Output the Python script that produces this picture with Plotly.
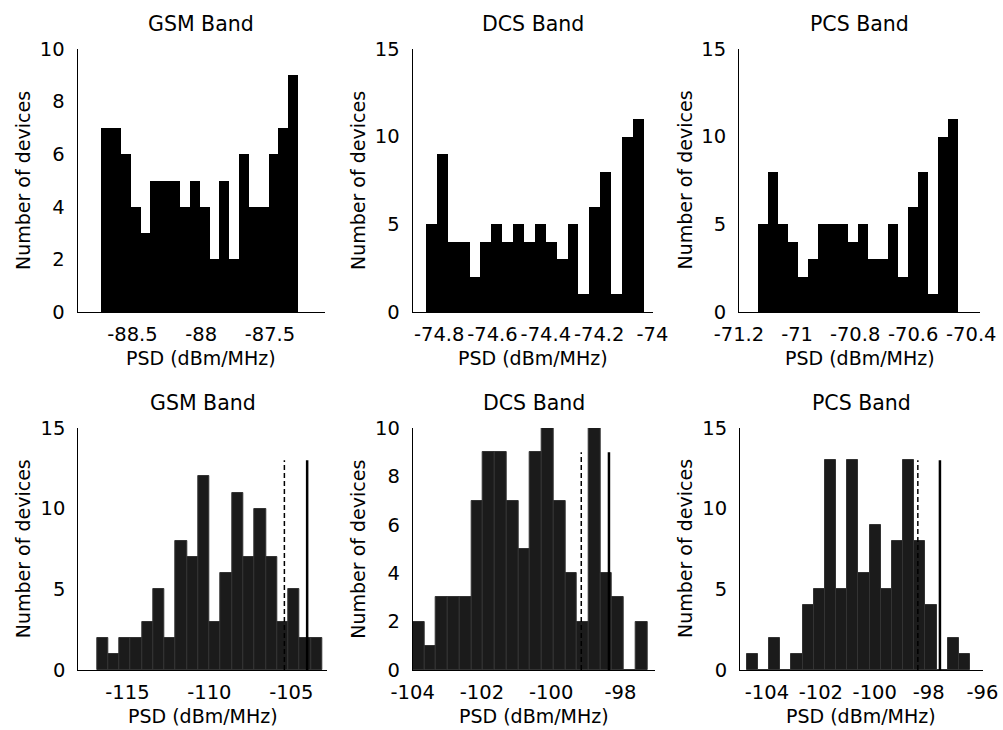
import numpy as np
import plotly.graph_objects as go

W, H = 1003, 730
FONT = "DejaVu Sans, Verdana, sans-serif"

# ---- histogram counts (20 bins per panel) ----
gsm_top_counts = [7, 7, 6, 4, 3, 5, 5, 5, 4, 5, 4, 2, 5, 2, 6, 4, 4, 6, 7, 9]
dcs_top_counts = [5, 9, 4, 4, 2, 4, 5, 4, 5, 4, 5, 4, 3, 5, 1, 6, 8, 1, 10, 11]
pcs_top_counts = [5, 8, 5, 4, 2, 3, 5, 5, 5, 4, 5, 3, 3, 5, 2, 6, 8, 1, 10, 11]
gsm_bot_counts = [2, 1, 2, 2, 3, 5, 2, 8, 7, 12, 3, 6, 11, 7, 10, 7, 3, 5, 2, 2]
dcs_bot_counts = [2, 1, 3, 3, 3, 7, 9, 9, 7, 5, 9, 10, 7, 4, 2, 10, 4, 3, 0, 2]
pcs_bot_counts = [1, 0, 2, 0, 1, 4, 5, 13, 5, 13, 6, 9, 5, 8, 13, 8, 4, 0, 2, 1]

# ---- histogram span (first bin lower edge, last bin upper edge), dBm/MHz ----
gsm_top_span = [-88.731, -87.299]
dcs_top_span = [-74.851, -74.035]
pcs_top_span = [-71.133, -70.446]
gsm_bot_span = [-116.87, -103.11]
dcs_bot_span = [-104.00, -97.22]
pcs_bot_span = [-104.75, -96.46]

# ---- reference markers in the lower panels: [dashed, solid] positions and height ----
gsm_bot_markers = [-105.42, -104.03]
dcs_bot_markers = [-99.13, -98.33]
pcs_bot_markers = [-98.40, -97.58]
gsm_bot_marker_height = 13
dcs_bot_marker_height = 9
pcs_bot_marker_height = 13

# ---- axes ----
titles = ["GSM Band", "DCS Band", "PCS Band", "GSM Band", "DCS Band", "PCS Band"]
x_ranges = [[-88.9, -87.1], [-74.9, -74.0], [-71.2, -70.37],
            [-118.0, -102.8], [-104.0, -97.0], [-105.0, -96.0]]
y_ranges = [[0, 10], [0, 15], [0, 15], [0, 15], [0, 10], [0, 15]]
x_ticks = [[-88.5, -88, -87.5],
           [-74.8, -74.6, -74.4, -74.2, -74.0],
           [-71.2, -71.0, -70.8, -70.6, -70.4],
           [-115, -110, -105],
           [-104, -102, -100, -98],
           [-104, -102, -100, -98, -96]]
x_tick_text = [["-88.5", "-88", "-87.5"],
               ["-74.8", "-74.6", "-74.4", "-74.2", "-74"],
               ["-71.2", "-71", "-70.8", "-70.6", "-70.4"],
               ["-115", "-110", "-105"],
               ["-104", "-102", "-100", "-98"],
               ["-104", "-102", "-100", "-98", "-96"]]
y_ticks = [[0, 2, 4, 6, 8, 10], [0, 5, 10, 15], [0, 5, 10, 15],
           [0, 5, 10, 15], [0, 2, 4, 6, 8, 10], [0, 5, 10, 15]]
x_label = "PSD (dBm/MHz)"
y_label = "Number of devices"

# pixel boxes of the six plotting areas: (left, right, top, bottom)
boxes = [(77.5, 325.0, 49, 312), (412.5, 652.5, 49, 312), (739.0, 980.0, 49, 312),
         (78.3, 327.3, 428, 670), (412.7, 655.0, 428, 670), (740.0, 982.5, 428, 670)]

counts = [gsm_top_counts, dcs_top_counts, pcs_top_counts,
          gsm_bot_counts, dcs_bot_counts, pcs_bot_counts]
spans = [gsm_top_span, dcs_top_span, pcs_top_span,
         gsm_bot_span, dcs_bot_span, pcs_bot_span]
markers = [None, None, None,
           (gsm_bot_markers, gsm_bot_marker_height),
           (dcs_bot_markers, dcs_bot_marker_height),
           (pcs_bot_markers, pcs_bot_marker_height)]


def px_x(v):
    return v / W


def px_y(v):
    return 1 - v / H


fig = go.Figure()
annotations = []
layout = {}

for i in range(6):
    k = "" if i == 0 else str(i + 1)
    xa, ya = "x" + k, "y" + k
    left, right, top, bottom = boxes[i]

    n = len(counts[i])
    edges = np.linspace(spans[i][0], spans[i][1], n + 1)
    centers = (edges[:-1] + edges[1:]) / 2
    width = edges[1] - edges[0]

    if i < 3:
        fill, edge, lw = "#000000", "#000000", 0
    else:
        fill, edge, lw = "#1b1b1b", "#333333", 1

    fig.add_trace(go.Bar(
        x=centers, y=counts[i], width=[width] * n,
        marker=dict(color=fill, line=dict(color=edge, width=lw)),
        xaxis=xa, yaxis=ya, showlegend=False, hoverinfo="skip"))

    if markers[i] is not None:
        (dashed_x, solid_x), h = markers[i]
        fig.add_trace(go.Scatter(
            x=[dashed_x, dashed_x], y=[0, h], mode="lines",
            line=dict(color="black", width=1.5, dash="5px,3px"),
            xaxis=xa, yaxis=ya, showlegend=False, hoverinfo="skip"))
        fig.add_trace(go.Scatter(
            x=[solid_x, solid_x], y=[0, h], mode="lines",
            line=dict(color="black", width=2.5),
            xaxis=xa, yaxis=ya, showlegend=False, hoverinfo="skip"))

    common = dict(showline=True, linecolor="black", linewidth=1, mirror=False,
                  showgrid=False, zeroline=False, ticks="", fixedrange=True,
                  automargin=False, ticklabeloverflow="allow", tickangle=0,
                  tickfont=dict(family=FONT, size=19.5, color="black"))
    layout["xaxis" + k] = dict(
        common, domain=[px_x(left), px_x(right)], range=x_ranges[i],
        anchor=ya, tickmode="array", tickvals=x_ticks[i], ticktext=x_tick_text[i],
        ticklabelstandoff=5)
    layout["yaxis" + k] = dict(
        common, domain=[px_y(bottom), px_y(top)], range=y_ranges[i],
        anchor=xa, tickmode="array", tickvals=y_ticks[i],
        ticktext=[str(t) for t in y_ticks[i]], ticklabelstandoff=8)

    cx = (left + right) / 2
    annotations.append(dict(
        text=titles[i], x=px_x(cx), y=px_y(top - 25), xref="paper", yref="paper",
        xanchor="center", yanchor="middle", showarrow=False,
        font=dict(family=FONT, size=20.5, color="black")))
    annotations.append(dict(
        text=x_label, x=px_x(cx), y=px_y(bottom + 46), xref="paper", yref="paper",
        xanchor="center", yanchor="middle", showarrow=False,
        font=dict(family=FONT, size=19, color="black")))
    annotations.append(dict(
        text=y_label, x=px_x(left - 55), y=px_y((top + bottom) / 2),
        xref="paper", yref="paper", xanchor="center", yanchor="middle",
        textangle=-90, showarrow=False,
        font=dict(family=FONT, size=19, color="black")))

fig.update_layout(
    width=W, height=H, margin=dict(l=0, r=0, t=0, b=0, autoexpand=False),
    paper_bgcolor="white", plot_bgcolor="white",
    bargap=0, barmode="overlay", annotations=annotations,
    font=dict(family=FONT, color="black"),
    **layout)

fig.write_html("out.html", include_plotlyjs=True, full_html=True,
               config={"displayModeBar": False})
